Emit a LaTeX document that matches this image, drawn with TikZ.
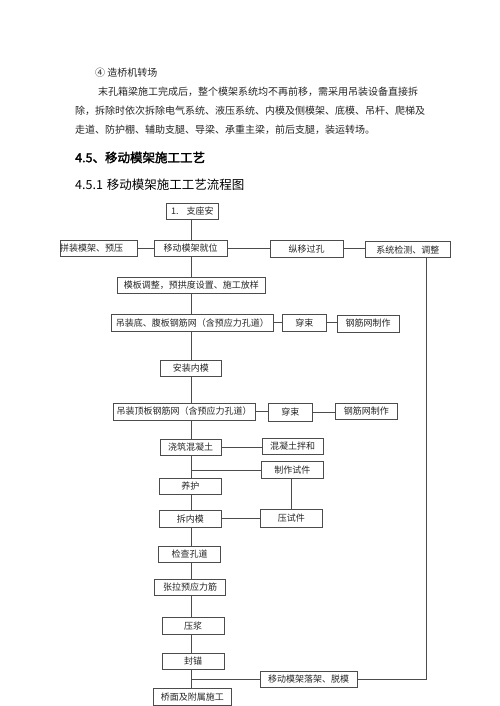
\documentclass[tikz,border=0pt]{standalone}
\usepackage{fontspec}
\setmainfont{Noto Sans CJK SC}[AutoFakeBold=2]
\begin{document}
\begin{tikzpicture}[x=1pt,y=-1pt,
  box/.style={draw=black!70, line width=0.7pt, inner sep=0pt, font=\fontsize{9}{10}\selectfont, text=black!85},
  ln/.style={draw=black!70, line width=0.7pt},
  txt/.style={anchor=west, inner sep=0pt, font=\fontsize{10}{12}\selectfont, text=black!85}]
\useasboundingbox[fill=white] (0,0) rectangle (500,706);
% top text
\node[txt] (t1) at (95,73) {④ 造桥机转场};
\node[txt] (t2) at (98,92) {末孔箱梁施工完成后，整个模架系统均不再前移，需采用吊装设备直接拆};
\node[txt] (t3) at (75,111) {除，拆除时依次拆除电气系统、液压系统、内模及侧模架、底模、吊杆、爬梯及};
\node[txt] (t4) at (75,130) {走道、防护棚、辅助支腿、导梁、承重主梁，前后支腿，装运转场。};
\node[txt, font=\fontsize{12.5}{14}\selectfont\bfseries, text=black] (h1) at (75,157.5) {4.5、移动模架施工工艺};
\node[txt, font=\fontsize{12.5}{14}\selectfont, text=black] (h2) at (75,184.5) {4.5.1\hspace{4pt}移动模架施工工艺流程图};
% boxes
\coordinate (m) at (191.5,0);
\coordinate (r) at (426.7,0);
\node[box, minimum width=52.7, minimum height=16] (n1) at (192.3,211.3) {1.\hspace{8pt}支座安};
\node[box, minimum width=77, minimum height=16.7, text width=77, align=left] (n2l) at (98.5,248.3) {拼装模架、预压};
\node[box, minimum width=73, minimum height=16] (n2) at (190.5,248) {移动模架就位};
\node[box, minimum width=73, minimum height=16.3] (n3) at (306.5,248.8) {纵移过孔};
\node[box, minimum width=84.3, minimum height=16] (n4) at (407.8,249.7) {系统检测、调整};
\node[box, minimum width=147.3, minimum height=16] (n5) at (191.3,285) {模板调整，预拱度设置、施工放样};
\node[box, minimum width=161.3, minimum height=17.7] (n6) at (192.3,322.8) {吊装底、腹板钢筋网（含预应力孔道）};
\node[box, minimum width=44.7, minimum height=17.7] (n7) at (304.3,322.8) {穿束};
\node[box, minimum width=62, minimum height=17] (n8) at (368,323.5) {钢筋网制作};
\node[box, minimum width=61.7, minimum height=16] (n9) at (190.8,368) {安装内模};
\node[box, minimum width=142, minimum height=17] (n10) at (184,411.5) {吊装顶板钢筋网（含预应力孔道）};
\node[box, minimum width=44.7, minimum height=17.3] (n11) at (290.3,412.3) {穿束};
\node[box, minimum width=61.3, minimum height=16] (n12) at (366.3,411) {钢筋网制作};
\node[box, minimum width=61, minimum height=16.7] (n13) at (190.5,447.3) {浇筑混凝土};
\node[box, minimum width=61, minimum height=16.7] (n14) at (292.5,446.3) {混凝土拌和};
\node[box, minimum width=61.3, minimum height=16.7] (n15) at (292.3,470) {制作试件};
\node[box, minimum width=62, minimum height=15.3] (n16) at (190.3,486.3) {养护};
\node[box, minimum width=61.3, minimum height=17.3] (n17) at (190.3,518.7) {拆内模};
\node[box, minimum width=61.3, minimum height=17.7] (n18) at (291.3,518.2) {压试件};
\node[box, minimum width=62, minimum height=16.3] (n19) at (189.7,554.5) {检查孔道};
\node[box, minimum width=70.7, minimum height=16.3] (n20) at (190,587.2) {张拉预应力筋};
\node[box, minimum width=62.3, minimum height=16.7] (n21) at (193.2,625.7) {压浆};
\node[box, minimum width=62.3, minimum height=15.7] (n22) at (193.2,661.2) {封锚};
\node[box, minimum width=97, minimum height=15.7] (n23) at (308.5,679.5) {移动模架落架、脱模};
\node[box, minimum width=78, minimum height=16.7] (n24) at (192.3,697) {桥面及附属施工};
% main vertical chain
\foreach \a/\b in {n1/n2,n2/n5,n5/n6,n6/n9,n9/n10,n10/n13,n13/n16,n16/n17,n17/n19,n19/n20,n20/n21,n21/n22,n22/n24}
  \draw[ln] (\a.south -| m) -- (\b.north -| m);
% horizontal links
\draw[ln] (n2l.east) -- (n2l.east -| n2.west);
\draw[ln] (n2.east) -- (n2.east -| n3.west);
\draw[ln] (n3.east) -- (n3.east -| n4.west);
\draw[ln] (n6.east) -- (n6.east -| n7.west);
\draw[ln] (n7.east) -- (n7.east -| n8.west);
\draw[ln] (n10.east) -- (n10.east -| n11.west);
\draw[ln] (n11.east) -- (n11.east -| n12.west);
\draw[ln] (n13.east) -- (n13.east -| n14.west);
\draw[ln] (n15.west -| m) -- (n15.west);
\draw[ln] (n15.south -| 291,0) -- (n18.north -| 291,0);
\draw[ln] (n17.east) -- (n17.east -| n18.west);
\draw[ln] (n23.west -| m) -- (n23.west);
\draw[ln] (n23.east) -| (r |- n4.south);
\end{tikzpicture}
\end{document}
